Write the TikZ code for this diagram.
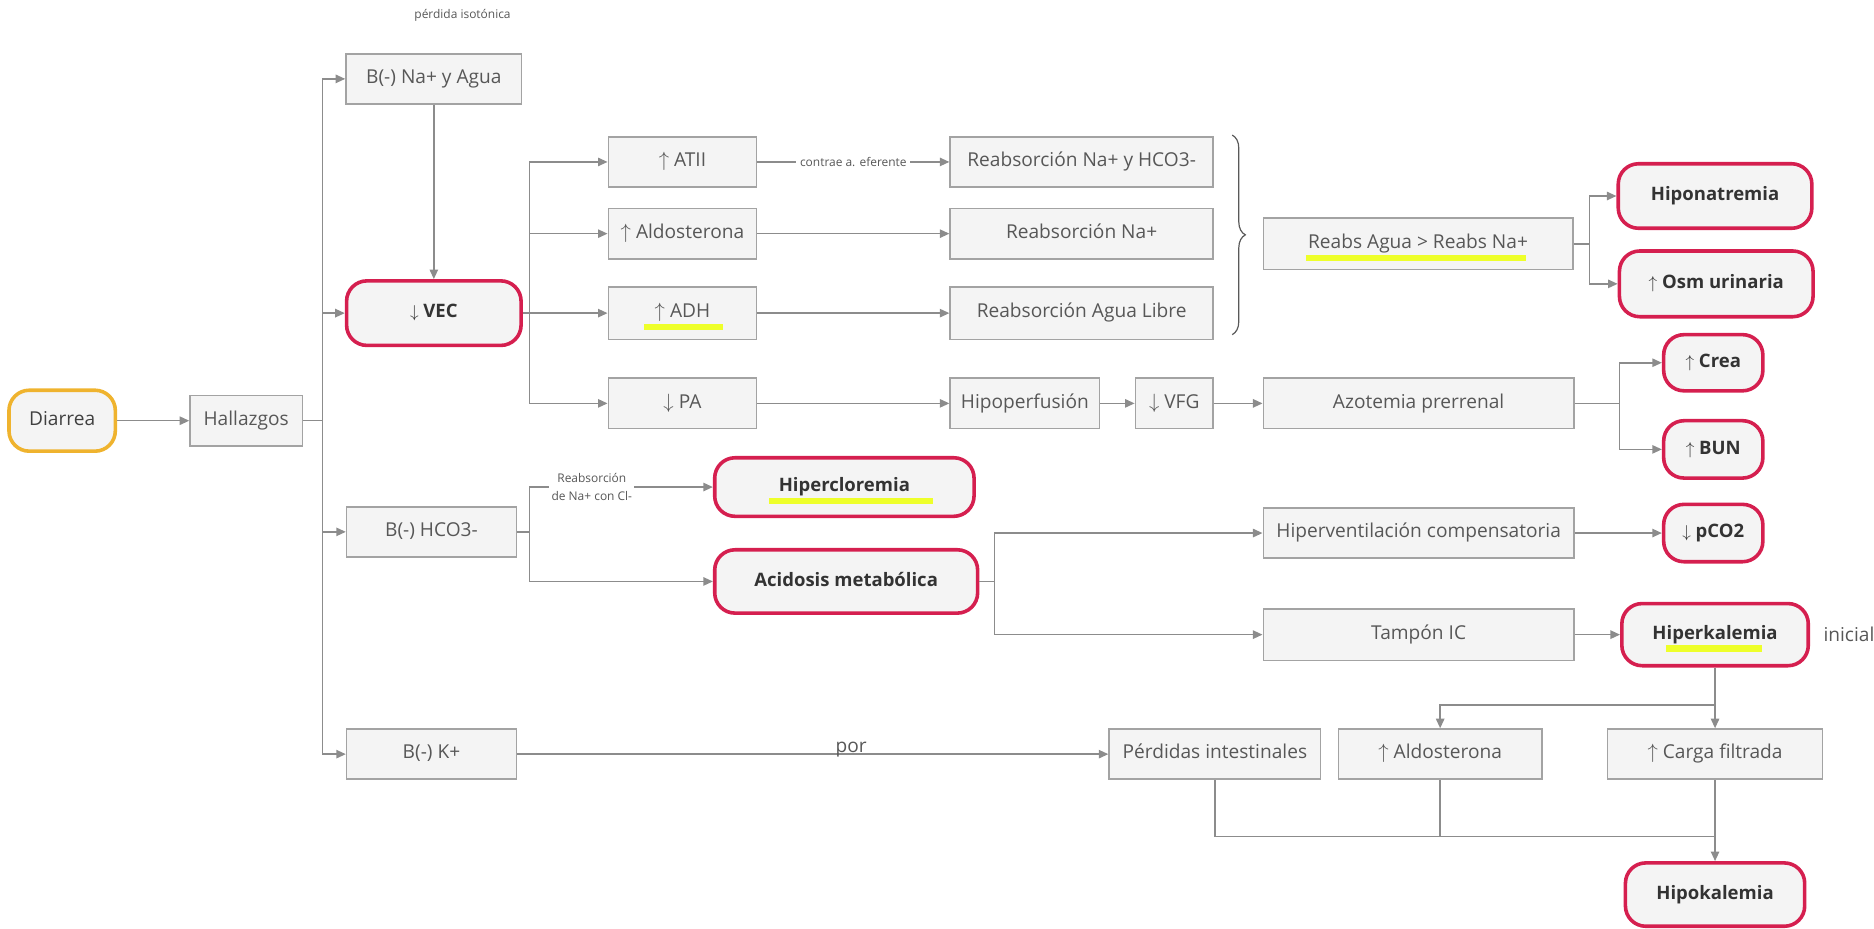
\documentclass[tikz,border=0pt]{standalone}
\usepackage{fontspec}
\setmainfont{Open Sans}
\usetikzlibrary{arrows.meta,decorations.pathreplacing}
\definecolor{boxfill}{HTML}{F4F4F4}
\definecolor{boxline}{HTML}{A3A3A3}
\definecolor{txtgray}{HTML}{575757}
\definecolor{linegray}{HTML}{8C8C8C}
\definecolor{keyred}{HTML}{D51F4F}
\definecolor{keyyellow}{HTML}{EFB32E}
\definecolor{hlyellow}{HTML}{EEFF2A}
\newcommand{\uarr}{$\uparrow$}
\newcommand{\darr}{$\downarrow$}
\newcommand{\hlbar}[2]{\rlap{\smash{\hspace*{#1}\textcolor{hlyellow}{\rule[-10.5pt]{#2}{5.5pt}}}}}
\begin{document}
\begin{tikzpicture}[x=1pt,y=-1pt,
  box/.style={draw=boxline, fill=boxfill, line width=1.3pt, text=txtgray, font=\fontsize{16}{19}\selectfont, text height=11.5pt, text depth=3.5pt, inner sep=0pt, minimum height=42pt},
  keybox/.style={draw=keyred, fill=boxfill, line width=3pt, rounded corners=17pt, text=black!80, font=\fontsize{15.5}{19}\selectfont\bfseries, text height=11.5pt, text depth=3.5pt, inner sep=0pt},
  conn/.style={draw=linegray, line width=1.3pt, -{Triangle[length=8pt,width=7pt]}},
  ln/.style={draw=linegray, line width=1.3pt},
  small/.style={font=\fontsize{10}{15}\selectfont, text=txtgray},
  plain/.style={font=\fontsize{16}{19}\selectfont, text=txtgray},
  bracestyle/.style={decorate, decoration={brace, amplitude=11pt}, draw=black!65, line width=1pt}
]
\useasboundingbox (0,0) rectangle (1568,777);
% nodes
\node[small] (iso) at (387,12.5) {pérdida isotónica};
\node[keybox, draw=keyyellow, font=\fontsize{16}{19}\selectfont, text=black!75, minimum width=89pt, minimum height=51pt] (dia) at (52,352) {Diarrea};
\node[box, minimum width=94pt] (hal) at (206,352) {Hallazgos};
\node[box, minimum width=147pt] (bna) at (363,66) {B(-) Na+ y Agua};
\node[keybox, minimum width=146pt, minimum height=54pt] (vec) at (363,262) {\darr\ VEC};
\node[box, minimum width=124pt] (atii) at (571,135.5) {\uarr\ ATII};
\node[box, minimum width=124pt] (ald) at (571,195.5) {\uarr\ Aldosterona};
\node[box, minimum width=124pt, minimum height=44pt] (adh) at (571,262) {\hlbar{-9pt}{66pt}\uarr\ ADH};
\node[box, minimum width=124pt] (pa) at (571,337.5) {\darr\ PA};
\node[box, minimum width=220pt] (rnah) at (905,135.5) {Reabsorción Na+ y HCO3-};
\node[box, minimum width=220pt] (rna) at (905,195.5) {Reabsorción Na+};
\node[box, minimum width=220pt, minimum height=44pt] (ragua) at (905,262) {Reabsorción Agua Libre};
\node[box, minimum width=125pt] (hipo) at (857.5,337.5) {Hipoperfusión};
\node[box, minimum width=65pt] (vfg) at (982.5,337.5) {\darr\ VFG};
\node[box, minimum width=260pt] (azo) at (1187,337.5) {Azotemia prerrenal};
\node[box, minimum width=259pt, minimum height=43pt] (rab) at (1186.5,204) {\hlbar{-1.5pt}{184pt}Reabs Agua > Reabs Na+};
\node[keybox, minimum width=162pt, minimum height=54pt] (hna) at (1435,164) {Hiponatremia};
\node[keybox, minimum width=162pt, minimum height=55pt] (osm) at (1436,237.5) {\uarr\ Osm urinaria};
\node[keybox, minimum width=83pt, minimum height=47pt] (crea) at (1433.5,303.5) {\uarr\ Crea};
\node[keybox, minimum width=83pt, minimum height=48pt] (bun) at (1433.5,376) {\uarr\ BUN};
\node[box, minimum width=142pt] (hco) at (361,445) {B(-) HCO3-};
\node[keybox, minimum width=217pt, minimum height=49pt] (hcl) at (706.5,407.5) {\hlbar{-8pt}{137pt}Hipercloremia};
\node[keybox, minimum width=220pt, minimum height=53pt] (acid) at (708,486.5) {Acidosis metabólica};
\node[box, minimum width=260pt] (hipv) at (1187,446) {Hiperventilación compensatoria};
\node[keybox, minimum width=83pt, minimum height=48pt] (pco) at (1433.5,446) {\darr\ pCO2};
\node[box, minimum width=260pt, minimum height=43pt] (tamp) at (1187,531) {Tampón IC};
\node[keybox, minimum width=156pt, minimum height=52pt] (hk) at (1435,531) {\hlbar{11pt}{81pt}Hiperkalemia};
\node[plain] (ini) at (1547,531) {inicial};
\node[box, minimum width=142pt] (bk) at (361,631) {B(-) K+};
\node[box, minimum width=177pt] (perd) at (1016.5,631) {Pérdidas intestinales};
\node[box, minimum width=170pt] (ald2) at (1205,631) {\uarr\ Aldosterona};
\node[box, minimum width=180pt] (carga) at (1435,631) {\uarr\ Carga filtrada};
\node[keybox, minimum width=150pt, minimum height=53pt] (hipok) at (1435,748.5) {Hipokalemia};
% junctions
\coordinate (tr) at (270,352);
\coordinate (vj) at (443,262);
\coordinate (rj) at (1330,204);
\coordinate (zj) at (1355,337.5);
\coordinate (hj) at (443,445);
\coordinate (aj) at (832,486.5);
\coordinate (kj) at (1435,590);
\coordinate (mj) at (1435,700);
\coordinate (bt) at (1031,113);
\coordinate (bb) at (1031,280);
% connectors
\draw[conn] (dia) -- (hal);
\draw[ln] (hal) -- (tr);
\draw[conn] (tr) |- (bna);
\draw[conn] (tr) |- (vec);
\draw[conn] (tr) |- (hco);
\draw[conn] (tr) |- (bk);
\draw[conn] (bna) -- (vec);
\draw[ln] (vec) -- (vj);
\draw[conn] (vj) |- (atii);
\draw[conn] (vj) |- (ald);
\draw[conn] (vj) -- (adh);
\draw[conn] (vj) |- (pa);
\draw[conn] (atii) -- node[small, fill=white, inner sep=3pt] (lblc) {contrae a. eferente} (rnah);
\draw[conn] (ald) -- (rna);
\draw[conn] (adh) -- (ragua);
\draw[conn] (pa) -- (hipo);
\draw[conn] (hipo) -- (vfg);
\draw[conn] (vfg) -- (azo);
\draw[bracestyle] (bt) -- (bb);
\draw[ln] (rab) -- (rj);
\draw[conn] (rj) |- (hna);
\draw[conn] (rj) |- (osm);
\draw[ln] (azo) -- (zj);
\draw[conn] (zj) |- (crea);
\draw[conn] (zj) |- (bun);
\draw[ln] (hco) -- (hj);
\draw[conn] (hj) |- node[small, fill=white, align=center, pos=0.67, inner sep=2pt] (lblr) {Reabsorción\\de Na+ con Cl-} (hcl);
\draw[conn] (hj) |- (acid);
\draw[ln] (acid) -- (aj);
\draw[conn] (aj) |- (hipv);
\draw[conn] (aj) |- (tamp);
\draw[conn] (hipv) -- (pco);
\draw[conn] (tamp) -- (hk);
\draw[ln] (hk) -- (kj);
\draw[conn] (kj) -- (carga);
\draw[conn] (kj) -| (ald2);
\draw[conn] (bk) -- node[plain, pos=0.565, anchor=base, yshift=1pt] (por) {por} (perd);
\draw[ln] (perd) |- (mj);
\draw[ln] (ald2) |- (mj);
\draw[conn] (carga) -- (hipok);
\end{tikzpicture}
\end{document}
